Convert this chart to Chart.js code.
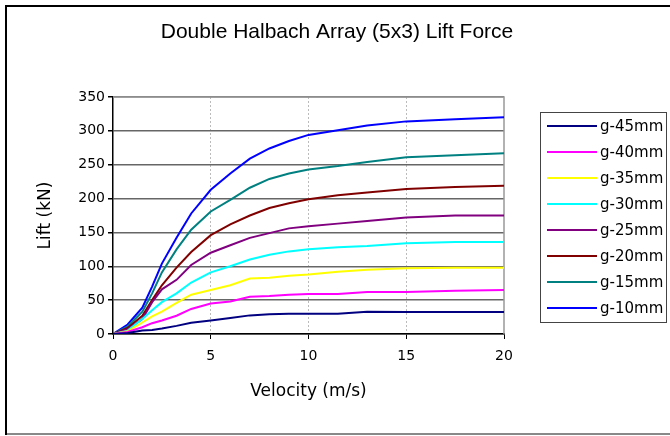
<!DOCTYPE html>
<html>
<head>
<meta charset="utf-8">
<script src="https://cdn.jsdelivr.net/npm/chart.js@4"></script>
<style>
  html, body { margin: 0; padding: 0; background: #fff; }
  #wrap { position: relative; width: 670px; height: 436px; }
</style>
</head>
<body>
<div id="wrap"><canvas id="liftChart"></canvas></div>
<script>
// velocity sample points (m/s)
const velocity = [0, 0.75, 1.5, 2, 2.5, 3.25, 4, 5, 6, 7, 8, 9, 10, 11.5, 13, 15, 17.5, 20];

// lift force (kN) per air gap
const g45 = [0, 1.5, 5, 6, 8, 12, 16.5, 20, 23.5, 27.5, 29, 30, 30, 30, 33, 32.5, 32.5, 32.5];
const g40 = [0, 3, 10, 16, 20, 27, 37, 45, 48, 55, 56, 58, 59, 59, 62, 62, 64, 65];
const g35 = [0, 4, 17, 26, 33, 46, 58, 65, 72, 82, 83, 86, 88, 92, 95, 97, 97.7, 97.7];
const g30 = [0, 5, 22, 35, 47, 60, 76, 91, 100, 110, 117, 122, 125, 128, 130, 134, 136, 136];
const g25 = [0, 7, 22, 47, 66, 80, 102, 120, 131, 142, 149, 156, 159, 163, 167, 172, 175, 175];
const g20 = [0, 9, 27, 50, 72, 98, 121, 146, 162, 175, 186, 193, 199, 205, 209, 214, 217, 219];
const g15 = [0, 11, 33, 60, 91, 125, 154, 181, 198, 216, 229, 237, 243, 248, 254, 261, 264, 267];
const g10 = [0, 14, 39, 70, 104, 142, 178, 213, 237, 259, 274, 285, 294, 301, 308, 314, 317, 320];

const seriesLabels = ["g-45mm", "g-40mm", "g-35mm", "g-30mm", "g-25mm", "g-20mm", "g-15mm", "g-10mm"];
const seriesData = [g45, g40, g35, g30, g25, g20, g15, g10];
const seriesColors = ["#000080", "#ff00ff", "#ffff00", "#00ffff", "#800080", "#800000", "#008080", "#0000ff"];

const yTicks = [0, 50, 100, 150, 200, 250, 300, 350];
const xTicks = [0, 5, 10, 15, 20];

const FONT = "'DejaVu Sans', Verdana, sans-serif";

// frame, plot border, title and boxed legend
const decor = {
  id: "decor",
  beforeDraw(chart) {
    const ctx = chart.ctx;
    ctx.save();
    ctx.fillStyle = "#fff";
    ctx.fillRect(0, 0, chart.width, chart.height);
    ctx.fillStyle = "#000";
    ctx.fillRect(5, 5, 2, 430);
    ctx.fillRect(5, 5, 665, 2);
    ctx.fillStyle = "#888";
    ctx.fillRect(7, 433, 663, 2);
    ctx.restore();
  },
  beforeDatasetsDraw(chart) {
    const { ctx, chartArea: a } = chart;
    ctx.save();
    ctx.strokeStyle = "#999";
    ctx.lineWidth = 1.5;
    ctx.beginPath();
    ctx.moveTo(a.left, a.top);
    ctx.lineTo(a.right, a.top);
    ctx.lineTo(a.right, a.bottom);
    ctx.stroke();
    ctx.restore();
  },
  afterDraw(chart) {
    const ctx = chart.ctx;
    ctx.save();
    ctx.fillStyle = "#000";
    ctx.font = "21px 'Liberation Sans', Arial, sans-serif";
    ctx.textAlign = "center";
    ctx.textBaseline = "middle";
    ctx.fillText("Double Halbach Array (5x3) Lift Force", 337, 32);

    // legend box
    ctx.strokeStyle = "#444";
    ctx.lineWidth = 1;
    ctx.strokeRect(540.5, 112.5, 126, 210);
    ctx.font = "15px " + FONT;
    ctx.textAlign = "left";
    chart.data.datasets.forEach((ds, i) => {
      const y = 126 + i * 26;
      ctx.strokeStyle = ds.borderColor;
      ctx.lineWidth = 2;
      ctx.beginPath();
      ctx.moveTo(547, y);
      ctx.lineTo(597, y);
      ctx.stroke();
      ctx.fillStyle = "#000";
      ctx.fillText(ds.label, 600, y + 1);
    });
    ctx.restore();
  }
};

new Chart(document.getElementById("liftChart"), {
  type: "line",
  data: {
    datasets: seriesData.map((vals, i) => ({
      label: seriesLabels[i],
      data: vals.map((v, j) => ({ x: velocity[j], y: v })),
      borderColor: seriesColors[i],
      backgroundColor: seriesColors[i],
      borderWidth: 2,
      pointRadius: 0,
      tension: 0,
      fill: false,
    })),
  },
  options: {
    responsive: true,
    maintainAspectRatio: false,
    animation: false,
    layout: { padding: { left: 31, top: 97, right: 166, bottom: 30 } },
    plugins: {
      legend: { display: false },
      title: { display: false },
      tooltip: { enabled: false },
    },
    scales: {
      x: {
        type: "linear",
        min: 0,
        max: 20,
        afterBuildTicks(scale) {
          scale.ticks = xTicks.map((v) => ({ value: v }));
        },
        afterFit(scale) {
          scale.height = 72;
        },
        grid: {
          color: (c) => (c.tick && c.tick.value > 0 && c.tick.value < 20 ? "#bbb" : "rgba(0,0,0,0)"),
          lineWidth: 1,
          tickColor: "#000",
          tickLength: 5,
          tickBorderDash: [],
        },
        border: { display: true, color: "#000", width: 1.5, dash: [2, 2] },
        ticks: { color: "#000", font: { family: FONT, size: 14 }, padding: 9 },
        title: { display: true, text: "Velocity (m/s)", color: "#000", font: { family: FONT, size: 17 } },
      },
      y: {
        min: 0,
        max: 350,
        afterBuildTicks(scale) {
          scale.ticks = yTicks.map((v) => ({ value: v }));
        },
        afterFit(scale) {
          scale.width = 82;
        },
        grid: {
          color: "#666",
          lineWidth: 1.5,
          tickColor: "#000",
          tickLength: 5,
        },
        border: { display: true, color: "#000", width: 1.5 },
        ticks: { color: "#000", font: { family: FONT, size: 14 }, padding: 3 },
        title: { display: true, text: "Lift (kN)", color: "#000", font: { family: FONT, size: 17 } },
      },
    },
  },
  plugins: [decor],
});
</script>
</body>
</html>
